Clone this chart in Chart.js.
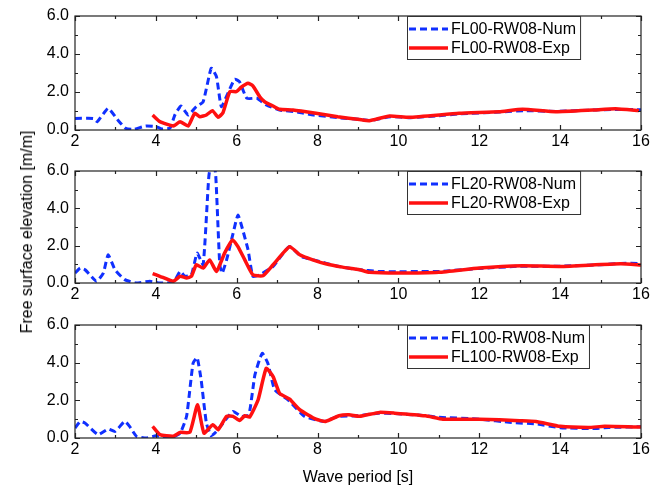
<!DOCTYPE html>
<html>
<head>
<meta charset="utf-8">
<script src="https://cdn.jsdelivr.net/npm/chart.js@4.4.1/dist/chart.umd.min.js"></script>
<style>
  body { margin: 0; background: #fff; }
  #wrap { position: relative; width: 668px; height: 492px; font-family: "Liberation Sans", Arial, sans-serif; }
  canvas { position: absolute; left: 0; }
  #ytitle {
    position: absolute; left: 27px; top: 232px;
    transform: translate(-50%, -50%) rotate(-90deg);
    white-space: nowrap; font-size: 16px; color: #000;
  }
</style>
</head>
<body>
<div id="wrap">
  <canvas id="c1" width="668" height="155" style="top:0px"></canvas>
  <canvas id="c2" width="668" height="155" style="top:155px"></canvas>
  <canvas id="c3" width="668" height="183" style="top:309px"></canvas>
  <div id="ytitle">Free surface elevation [m/m]</div>
</div>
<script>
// panel 1: FL00
const p1NumX = [2.0, 2.45, 2.55, 2.82, 3.05, 3.25, 3.45, 3.75, 4.0, 4.15, 4.35, 4.47, 4.62, 4.8, 5.0, 5.17, 5.37, 5.5, 5.62, 5.8, 5.95, 6.07, 6.25, 6.5, 6.73, 7.06, 7.5, 7.9, 8.5, 9.04, 9.3, 9.8, 10.3, 11.0, 11.5, 12.5, 13.1, 13.9, 14.8, 15.4, 16.0];
const p1NumY = [0.61, 0.61, 0.44, 1.14, 0.55, 0.09, 0.03, 0.21, 0.18, 0.05, 0.1, 0.79, 1.26, 0.79, 1.23, 1.49, 3.25, 2.8, 1.23, 2.02, 2.67, 2.54, 1.67, 1.67, 1.32, 1.05, 0.95, 0.79, 0.65, 0.56, 0.5, 0.7, 0.65, 0.75, 0.85, 0.95, 1.02, 0.98, 1.05, 1.08, 1.07];
const p1ExpX = [3.92, 4.1, 4.43, 4.6, 4.8, 4.96, 5.09, 5.25, 5.4, 5.54, 5.66, 5.83, 5.99, 6.11, 6.28, 6.4, 6.57, 6.69, 6.9, 7.06, 7.39, 7.96, 8.5, 9.04, 9.28, 9.78, 10.27, 11.5, 12.49, 13.07, 13.89, 14.8, 15.37, 15.95];
const p1ExpY = [0.79, 0.44, 0.21, 0.44, 0.21, 0.88, 0.7, 0.79, 1.02, 0.67, 0.91, 2.02, 2.02, 2.25, 2.46, 2.32, 1.75, 1.49, 1.26, 1.09, 1.05, 0.88, 0.7, 0.55, 0.49, 0.74, 0.67, 0.88, 0.96, 1.09, 0.96, 1.05, 1.12, 1.02];

// panel 2: FL20
const p2NumX = [2.0, 2.13, 2.25, 2.53, 2.7, 2.82, 2.99, 3.23, 3.52, 3.85, 4.1, 4.43, 4.6, 4.72, 4.88, 5.02, 5.17, 5.31, 5.4, 5.48, 5.58, 5.64, 5.75, 5.91, 6.03, 6.15, 6.28, 6.4, 6.57, 6.9, 7.3, 7.6, 7.9, 8.5, 9.0, 9.5, 10.0, 10.5, 11.0, 12.0, 13.0, 14.0, 15.0, 15.5, 16.0];
const p2NumY = [0.53, 0.8, 0.71, 0.09, 0.53, 1.51, 0.71, 0.18, 0.0, 0.09, 0.0, 0.03, 0.62, 0.36, 0.44, 1.6, 0.98, 5.7, 6.8, 5.8, 1.0, 0.53, 1.24, 2.66, 3.64, 2.84, 1.78, 0.36, 0.44, 0.89, 1.95, 1.42, 1.24, 0.9, 0.72, 0.62, 0.6, 0.62, 0.62, 0.78, 0.9, 0.9, 0.98, 1.05, 1.05];
const p2ExpX = [3.92, 4.1, 4.43, 4.6, 4.76, 4.88, 5.0, 5.17, 5.33, 5.5, 5.7, 5.9, 6.03, 6.2, 6.4, 6.65, 6.9, 7.31, 7.56, 7.88, 8.2, 8.62, 9.04, 9.28, 10.0, 11.0, 12.0, 13.07, 14.0, 15.5, 16.0];
const p2ExpY = [0.5, 0.36, 0.09, 0.36, 0.27, 0.36, 0.98, 0.8, 1.24, 0.62, 1.6, 2.31, 1.95, 1.24, 0.44, 0.39, 0.98, 1.95, 1.51, 1.24, 1.03, 0.85, 0.71, 0.57, 0.53, 0.57, 0.8, 0.92, 0.89, 1.03, 0.96];

// panel 3: FL100
const p3NumX = [2.0, 2.13, 2.25, 2.57, 2.82, 2.99, 3.23, 3.35, 3.52, 3.77, 4.0, 4.35, 4.6, 4.76, 4.92, 5.02, 5.12, 5.25, 5.37, 5.5, 5.66, 5.91, 6.11, 6.3, 6.45, 6.63, 6.77, 6.94, 7.27, 7.68, 8.17, 8.5, 9.0, 9.5, 9.9, 10.6, 11.0, 12.0, 12.8, 13.4, 14.0, 14.8, 15.2, 16.0];
const p3NumY = [0.53, 0.88, 0.79, 0.18, 0.48, 0.35, 0.88, 0.62, 0.09, 0.0, 0.12, 0.0, 0.26, 1.15, 3.97, 4.27, 3.09, 0.79, 0.12, 0.35, 0.79, 1.41, 1.15, 1.23, 3.35, 4.5, 3.97, 2.56, 2.03, 1.15, 0.88, 1.15, 1.18, 1.32, 1.3, 1.2, 1.1, 1.0, 0.82, 0.75, 0.55, 0.5, 0.56, 0.6];
const p3ExpX = [3.92, 4.1, 4.43, 4.6, 4.84, 5.03, 5.19, 5.41, 5.54, 5.75, 5.91, 6.07, 6.2, 6.32, 6.53, 6.73, 6.9, 7.06, 7.31, 7.56, 7.96, 8.2, 8.53, 8.78, 9.04, 9.53, 9.9, 10.67, 11.1, 12.0, 13.0, 13.4, 14.0, 14.7, 15.1, 16.0];
const p3ExpY = [0.62, 0.18, 0.09, 0.3, 0.3, 1.76, 0.26, 0.71, 0.44, 1.15, 1.15, 0.93, 1.18, 1.11, 2.03, 3.7, 3.26, 2.38, 2.06, 1.5, 1.0, 0.88, 1.18, 1.23, 1.15, 1.36, 1.32, 1.18, 1.0, 1.0, 0.92, 0.88, 0.62, 0.56, 0.62, 0.58];

const panelNames = ['FL00-RW08', 'FL20-RW08', 'FL100-RW08'];
const xTicks = [2, 4, 6, 8, 10, 12, 14, 16];
const yTicks = [0, 2, 4, 6];

const FONT = '"Liberation Sans", Arial, sans-serif';
const pts = (xs, ys) => xs.map((x, i) => ({ x: x, y: ys[i] }));

// box frame + inward ticks on all four sides
const frameTicks = {
    id: 'frameTicks',
    afterDatasetsDraw(chart) {
        const { ctx, chartArea: a, scales: { x, y } } = chart;
        ctx.save();
        ctx.strokeStyle = '#222';
        ctx.lineWidth = 1.2;
        ctx.strokeRect(a.left, a.top, a.right - a.left, a.bottom - a.top);
        ctx.beginPath();
        for (let v = 2; v <= 16; v++) {
            const px = Math.round(x.getPixelForValue(v)) + 0.5;
            const len = v % 2 === 0 ? 5 : 3;
            ctx.moveTo(px, a.bottom); ctx.lineTo(px, a.bottom - len);
            ctx.moveTo(px, a.top); ctx.lineTo(px, a.top + len);
        }
        for (let v = 0; v <= 6; v++) {
            const py = Math.round(y.getPixelForValue(v)) + 0.5;
            const len = v % 2 === 0 ? 5 : 3;
            ctx.moveTo(a.left, py); ctx.lineTo(a.left + len, py);
            ctx.moveTo(a.right, py); ctx.lineTo(a.right - len, py);
        }
        ctx.stroke();
        ctx.restore();
    }
};

// boxed legend in the upper right of the plot
const boxLegend = {
    id: 'boxLegend',
    afterDraw(chart) {
        const { ctx, chartArea: a } = chart;
        const sets = chart.data.datasets;
        ctx.save();
        ctx.font = '16px ' + FONT;
        const textW = Math.max(...sets.map(d => ctx.measureText(d.label).width));
        const left = 407, top = a.top, h = 43;
        const w = 44 + textW + 4;
        ctx.fillStyle = '#fff';
        ctx.fillRect(left, top, w, h);
        ctx.strokeStyle = '#333';
        ctx.lineWidth = 1;
        ctx.strokeRect(left + 0.5, top + 0.5, w, h);
        sets.forEach((d, i) => {
            const cy = top + 13 + i * 19;
            ctx.beginPath();
            ctx.strokeStyle = d.borderColor;
            ctx.lineWidth = d.borderWidth;
            ctx.setLineDash(d.borderDash || []);
            ctx.moveTo(left + 2, cy);
            ctx.lineTo(left + 41, cy);
            ctx.stroke();
            ctx.setLineDash([]);
            ctx.fillStyle = '#000';
            ctx.textBaseline = 'middle';
            ctx.fillText(d.label, left + 44, cy + 1);
        });
        ctx.restore();
    }
};

function makePanel(id, name, numX, numY, expX, expY, axisH, showTitle) {
    return new Chart(document.getElementById(id), {
        type: 'line',
        data: {
            datasets: [{
                label: name + '-Num',
                data: pts(numX, numY),
                borderColor: '#1030ff',
                borderWidth: 3,
                borderDash: [7, 4],
                order: 2
            }, {
                label: name + '-Exp',
                data: pts(expX, expY),
                borderColor: '#ff1010',
                borderWidth: 3.5,
                order: 1
            }]
        },
        options: {
            responsive: false,
            animation: false,
            devicePixelRatio: 1,
            layout: { padding: { top: 16, right: 27, left: 0, bottom: 0 } },
            elements: { point: { radius: 0 }, line: { tension: 0.15 } },
            plugins: { legend: { display: false }, tooltip: { enabled: false } },
            scales: {
                x: {
                    type: 'linear', min: 2, max: 16,
                    afterBuildTicks: s => { s.ticks = xTicks.map(v => ({ value: v })); },
                    afterFit: s => { s.height = axisH; },
                    grid: { display: false, drawTicks: false },
                    border: { display: false },
                    ticks: { padding: 2, color: '#000', font: { size: 16, family: FONT } },
                    title: {
                        display: showTitle, text: 'Wave period [s]', color: '#000',
                        font: { size: 16, family: FONT }, padding: { top: 4, bottom: 5 }
                    }
                },
                y: {
                    min: 0, max: 6,
                    afterBuildTicks: s => { s.ticks = yTicks.map(v => ({ value: v })); },
                    afterFit: s => { s.width = 75; },
                    grid: { display: false, drawTicks: false },
                    border: { display: false },
                    ticks: {
                        padding: 6, color: '#000', font: { size: 16, family: FONT },
                        callback: v => v.toFixed(1)
                    }
                }
            }
        },
        plugins: [frameTicks, boxLegend]
    });
}

makePanel('c1', panelNames[0], p1NumX, p1NumY, p1ExpX, p1ExpY, 25, false);
makePanel('c2', panelNames[1], p2NumX, p2NumY, p2ExpX, p2ExpY, 27, false);
makePanel('c3', panelNames[2], p3NumX, p3NumY, p3ExpX, p3ExpY, 54, true);
</script>
</body>
</html>
